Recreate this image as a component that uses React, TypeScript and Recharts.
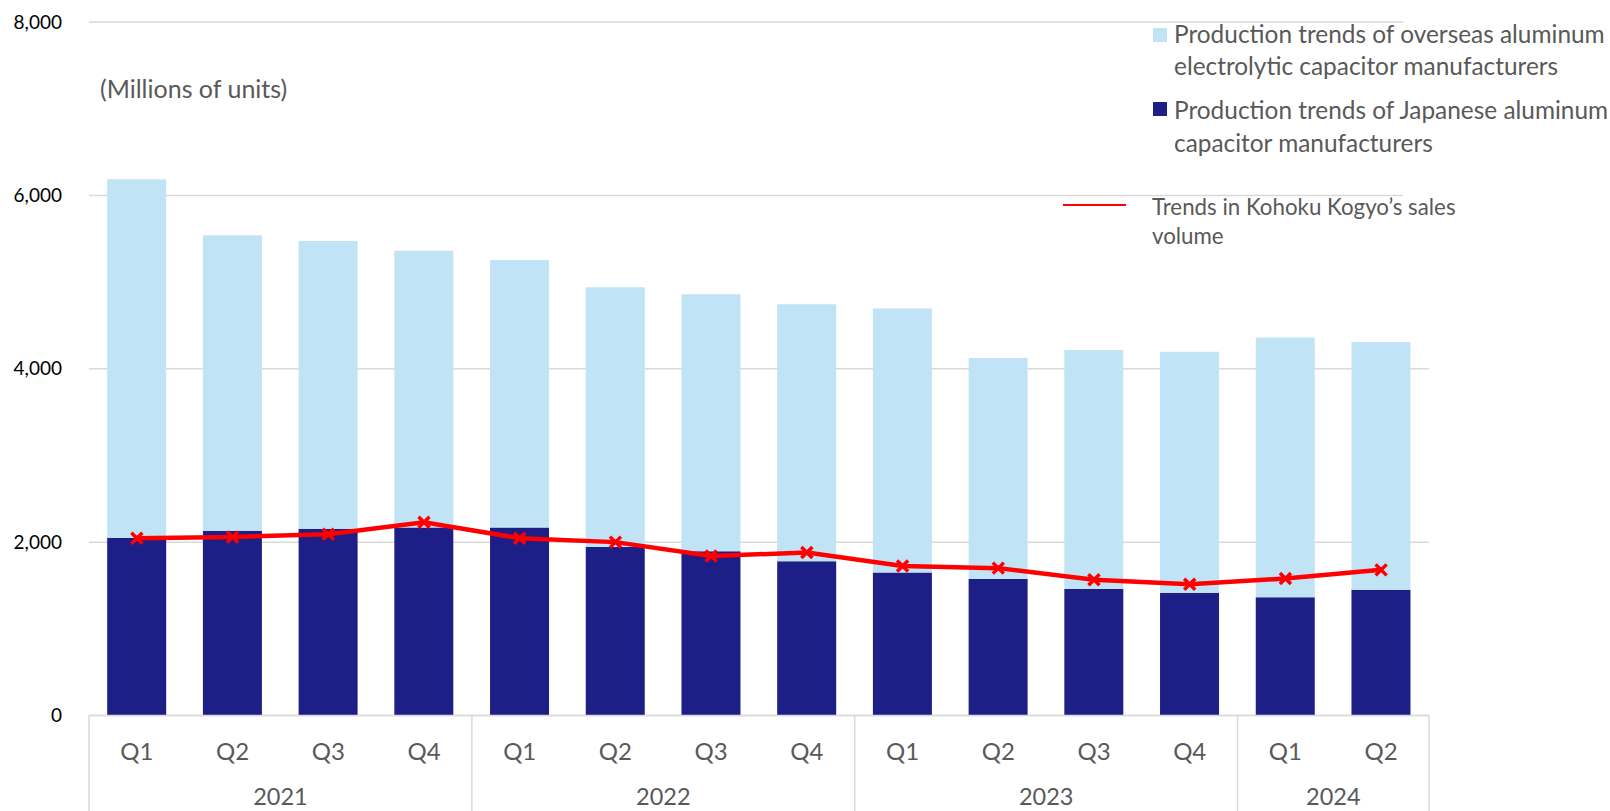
import React from "react";
import { Bar, CartesianGrid, ComposedChart, Line, XAxis, YAxis } from "recharts";

const quarters = ["Q1", "Q2", "Q3", "Q4", "Q1", "Q2", "Q3", "Q4", "Q1", "Q2", "Q3", "Q4", "Q1", "Q2"];
const years = ["2021", "2021", "2021", "2021", "2022", "2022", "2022", "2022", "2023", "2023", "2023", "2023", "2024", "2024"];

// millions of units
const japanese = [2050, 2130, 2155, 2170, 2170, 1945, 1895, 1780, 1650, 1575, 1460, 1415, 1365, 1450];
const overseas = [4135, 3410, 3320, 3190, 3085, 2995, 2965, 2965, 3045, 2550, 2755, 2780, 2995, 2860];
const kohoku = [2045, 2060, 2090, 2230, 2045, 2000, 1840, 1880, 1725, 1700, 1565, 1515, 1580, 1680];

const yTicks = [0, 2000, 4000, 6000, 8000];

const data = quarters.map((q, i) => ({
  key: `${years[i]}-${q}`,
  q,
  year: years[i],
  japanese: japanese[i],
  overseas: overseas[i],
  kohoku: kohoku[i],
}));

const FONT = "Lato, 'Open Sans', sans-serif";
const TEXT = "#595959";
const GRID = "#d9d9d9";
const LIGHT = "#c0e3f5";
const DARK = "#1e1f86";
const RED = "#ff0000";

function QuarterTick(props: any) {
  const { x, y, payload } = props;
  const i: number = payload.index;
  const half: number = payload.offset ?? 0;
  const d = data[i];
  const first = i === 0 || data[i - 1].year !== d.year;
  const last = i === data.length - 1;
  const count = data.filter((r) => r.year === d.year).length;
  return (
    <g>
      <text x={x} y={y + 35} textAnchor="middle" dominantBaseline="central" fontSize={24} fill={TEXT} fontFamily={FONT}>
        {d.q}
      </text>
      {first && (
        <>
          <line x1={x - half} x2={x - half} y1={y} y2={y + 120} stroke={GRID} strokeWidth={1.5} />
          <text x={x + (count - 1) * half} y={y + 80.5} textAnchor="middle" dominantBaseline="central" fontSize={23.5} fill={TEXT} fontFamily={FONT}>
            {d.year}
          </text>
        </>
      )}
      {last && <line x1={x + half} x2={x + half} y1={y} y2={y + 120} stroke={GRID} strokeWidth={1.5} />}
    </g>
  );
}

function CrossDot(props: any) {
  const { cx, cy } = props;
  if (cx == null || cy == null) return null;
  const s = 5.5;
  return (
    <path
      d={`M${cx - s},${cy - s}L${cx + s},${cy + s}M${cx + s},${cy - s}L${cx - s},${cy + s}`}
      stroke={RED}
      strokeWidth={3.5}
      fill="none"
    />
  );
}

const abs = (left: number, top: number): React.CSSProperties => ({ position: "absolute", left, top });

export default function App() {
  return (
    <div style={{ position: "absolute", left: 0, top: 0, width: 1610, height: 811, background: "#fff", fontFamily: FONT, color: TEXT }}>
      <ComposedChart
        width={1610}
        height={811}
        data={data}
        margin={{ top: 22, right: 181, bottom: 0, left: 0 }}
        barCategoryGap="19%"
      >
        <CartesianGrid vertical={false} stroke={GRID} strokeWidth={1.5} />
        <XAxis
          dataKey="key"
          height={95.5}
          tickLine={false}
          tickSize={0}
          tickMargin={0}
          axisLine={{ stroke: GRID, strokeWidth: 1.5 }}
          interval={0}
          tick={<QuarterTick />}
        />
        <YAxis
          width={89}
          domain={[0, 8000]}
          ticks={yTicks}
          axisLine={false}
          tickLine={false}
          tickSize={0}
          tickMargin={27}
          tickFormatter={(v: number) => v.toLocaleString("en-US")}
          tick={{ fontSize: 19, fill: "#000", fontFamily: FONT }}
        />
        <Bar dataKey="japanese" stackId="a" fill={DARK} isAnimationActive={false} />
        <Bar dataKey="overseas" stackId="a" fill={LIGHT} isAnimationActive={false} />
        <Line
          dataKey="kohoku"
          type="linear"
          stroke={RED}
          strokeWidth={4.5}
          dot={<CrossDot />}
          activeDot={false}
          isAnimationActive={false}
        />
      </ComposedChart>

      <div style={{ ...abs(1403, 12), width: 30, height: 195, background: "#fff" }} />

      <div style={{ ...abs(100, 72), fontSize: 25, lineHeight: "32px", whiteSpace: "nowrap" }}>(Millions of units)</div>

      <div style={{ ...abs(1153, 28), width: 14, height: 14, background: LIGHT }} />
      <div style={{ ...abs(1174, 18), fontSize: 24.4, lineHeight: "32px", whiteSpace: "nowrap" }}>
        Production trends of overseas aluminum
        <br />
        electrolytic capacitor manufacturers
      </div>

      <div style={{ ...abs(1153, 102), width: 14, height: 14, background: DARK }} />
      <div style={{ ...abs(1174, 92.5), fontSize: 24.4, lineHeight: "33px", whiteSpace: "nowrap" }}>
        Production trends of Japanese aluminum
        <br />
        capacitor manufacturers
      </div>

      <div style={{ ...abs(1063, 204), width: 63, height: 2, background: RED }} />
      <div style={{ ...abs(1152, 191.5), fontSize: 22.3, lineHeight: "29px", whiteSpace: "nowrap" }}>
        Trends in Kohoku Kogyo’s sales
        <br />
        volume
      </div>
    </div>
  );
}
